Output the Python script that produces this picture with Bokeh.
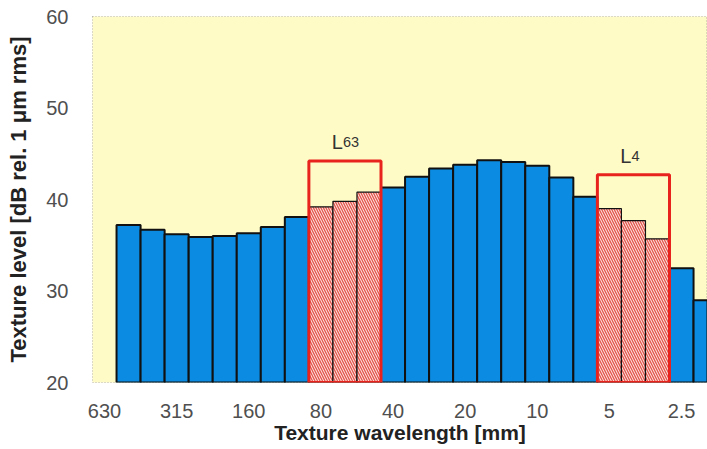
from bokeh.plotting import figure
from bokeh.models import Range1d, FixedTicker
from bokeh.core.properties import value
from bokeh.embed import file_html
from bokeh.resources import INLINE

# one-third-octave band wavelengths [mm]
bands = ["630", "500", "400", "315", "250", "200", "160", "125", "100", "80", "63", "50",
         "40", "31.5", "25", "20", "16", "12.5", "10", "8", "6.3", "5", "4", "3.15", "2.5", "2"]
levels = [None, 37.2, 36.7, 36.2, 35.9, 36.0, 36.3, 37.0, 38.1, 39.2, 39.8, 40.8,
          41.3, 42.5, 43.4, 43.8, 44.3, 44.1, 43.7, 42.4, 40.3, 39.0, 37.7, 35.7, 32.5, 29.0]
tick_labels = ["630", "315", "160", "80", "40", "20", "10", "5", "2.5"]
l63_bands = ["80", "63", "50"]
l4_bands = ["5", "4", "3.15"]
l63_level = 44.2
l4_level = 42.7

idx = {b: i for i, b in enumerate(bands)}
hatched = set(l63_bands + l4_bands)

plain_x, plain_y, hat_x, hat_y = [], [], [], []
for i, (b, v) in enumerate(zip(bands, levels)):
    if v is None:
        continue
    if b in hatched:
        hat_x.append(i); hat_y.append(v)
    else:
        plain_x.append(i); plain_y.append(v)

FONT = "Liberation Sans"

p = figure(width=707, height=449, output_backend="svg", toolbar_location=None,
           x_range=Range1d(-0.5, 25.08), y_range=Range1d(20, 60),
           min_border_left=92, min_border_right=0, min_border_top=16, min_border_bottom=67)
p.background_fill_color = "#FFFBC6"
p.border_fill_color = "white"
p.grid.visible = False
p.outline_line_color = "#888888"
p.outline_line_dash = "1 2"
p.outline_line_alpha = 0.6

p.vbar(x=plain_x, top=plain_y, bottom=20, width=1.0, fill_color="#0B8CE2",
       line_color="#111111", line_width=2)
p.vbar(x=hat_x, top=hat_y, bottom=20, width=1.0, fill_color="#FBE6DE",
       hatch_pattern="\\", hatch_color="#E4534D", hatch_scale=5, hatch_weight=1.3,
       line_color="#111111", line_width=1.2)

def box(band_list, level, sub):
    xs = [idx[b] for b in band_list]
    left, right = min(xs) - 0.5, max(xs) + 0.5
    p.quad(left=[left], right=[right], bottom=[20], top=[level], fill_alpha=0,
           line_color="#E8231E", line_width=3)
    c = (left + right) / 2
    p.text(x=[c], y=[level + 2.1], text=["L"], text_font=value(FONT),
           text_font_size="20px", text_color="#333333", text_align="right",
           text_baseline="alphabetic", x_offset=-2)
    p.text(x=[c], y=[level + 2.1], text=[sub], text_font=value(FONT),
           text_font_size="14.5px", text_color="#333333", text_align="left",
           text_baseline="alphabetic", x_offset=-2)

box(l63_bands, l63_level, "63")
box(l4_bands, l4_level, "4")

p.xaxis.ticker = FixedTicker(ticks=[idx[t] for t in tick_labels])
p.xaxis.major_label_overrides = {idx[t]: t for t in tick_labels}
p.yaxis.ticker = FixedTicker(ticks=[20, 30, 40, 50, 60])

for ax in (p.xaxis[0], p.yaxis[0]):
    ax.axis_line_color = None
    ax.major_tick_line_color = None
    ax.minor_tick_line_color = None
    ax.major_label_text_font = FONT
    ax.major_label_text_font_size = "20px"
    ax.major_label_text_color = "#4f4f4f"
    ax.axis_label_text_font = FONT
    ax.axis_label_text_font_style = "bold"
    ax.axis_label_text_color = "#222222"

p.xaxis.axis_label = "Texture wavelength [mm]"
p.xaxis.axis_label_text_font_size = "21px"
p.xaxis.major_label_standoff = 15
p.xaxis.axis_label_standoff = 0
p.yaxis.axis_label = "Texture level [dB rel. 1 μm rms]"
p.yaxis.axis_label_text_font_size = "22px"
p.yaxis.major_label_standoff = 18
p.yaxis.axis_label_standoff = 12

open("out.html", "w").write(file_html(p, INLINE))
